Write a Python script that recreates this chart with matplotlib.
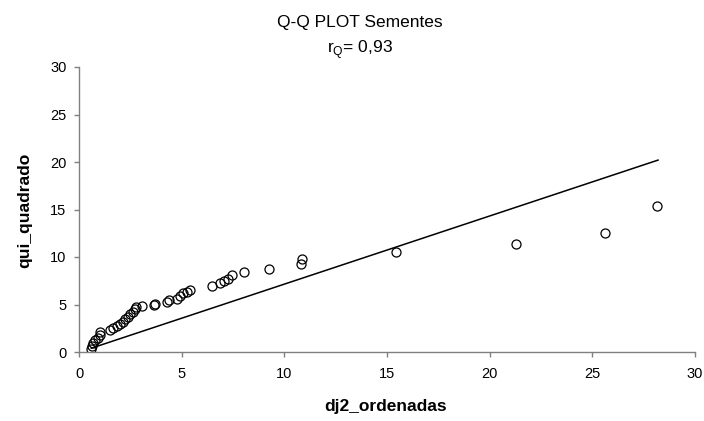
import matplotlib

matplotlib.use("Agg")
import matplotlib.pyplot as plt

plt.rcParams["font.family"] = ["Liberation Sans", "DejaVu Sans"]

# ordered squared distances vs chi-square quantiles
dj2 = [0.6, 0.63, 0.7, 0.78, 0.92, 1.0, 1.0, 1.5, 1.66, 1.85, 2.0, 2.14, 2.24, 2.4,
       2.48, 2.63, 2.73, 2.8, 3.07, 3.65, 3.68, 4.29, 4.4, 4.77, 4.92, 5.07, 5.25,
       5.4, 6.48, 6.85, 7.08, 7.25, 7.45, 8.04, 9.25, 10.8, 10.86, 15.44, 21.3,
       25.6, 28.15]
qui = [0.35, 0.6, 0.95, 1.26, 1.5, 1.8, 2.1, 2.3, 2.5, 2.7, 3.0, 3.2, 3.5, 3.7,
       4.0, 4.2, 4.5, 4.7, 4.8, 4.95, 5.1, 5.3, 5.45, 5.6, 5.85, 6.2, 6.3, 6.5,
       6.95, 7.26, 7.5, 7.7, 8.1, 8.42, 8.74, 9.26, 9.79, 10.5, 11.37, 12.5, 15.37]

# reference line
line_x = [0.6, 28.2]
line_y = [0.4, 20.2]

ticks = [0, 5, 10, 15, 20, 25, 30]

W, H = 704, 421
fig = plt.figure(figsize=(W / 100, H / 100), dpi=100)
ax = fig.add_axes([79 / W, 69 / H, 616 / W, 285 / H])
ax.plot(line_x, line_y, color="black", lw=1.1)
ax.plot(dj2, qui, ls="none", marker="o", ms=6.5, mfc="none", mec="black", mew=0.9)
ax.set_xlim(0, 30)
ax.set_ylim(0, 30)
ax.set_xticks(ticks)
ax.set_yticks(ticks)
for s in ("top", "right"):
    ax.spines[s].set_visible(False)
for s in ("left", "bottom"):
    ax.spines[s].set_color("#808080")
    ax.spines[s].set_linewidth(1.0)
ax.tick_params(direction="out", length=3.5, width=1.0, color="#808080", labelsize=10.5)
ax.tick_params(axis="y", pad=5.5)
ax.tick_params(axis="x", pad=7)

fig.text(386 / W, 1 - 411 / H, "dj2_ordenadas", ha="center", va="baseline",
         fontsize=12.5, fontweight="bold")
fig.text(25 / W, 1 - 210 / H, "qui_quadrado", ha="center", va="center", rotation=90,
         fontsize=12.5, fontweight="bold")

fig.text(360 / W, 1 - 27 / H, "Q-Q PLOT Sementes", ha="center", va="baseline", fontsize=12.5)
fig.text(360 / W, 1 - 53 / H, "r$_\\mathregular{Q}$= 0,93", ha="center", va="baseline",
         fontsize=12.5)

fig.savefig("out.png", dpi=100)
